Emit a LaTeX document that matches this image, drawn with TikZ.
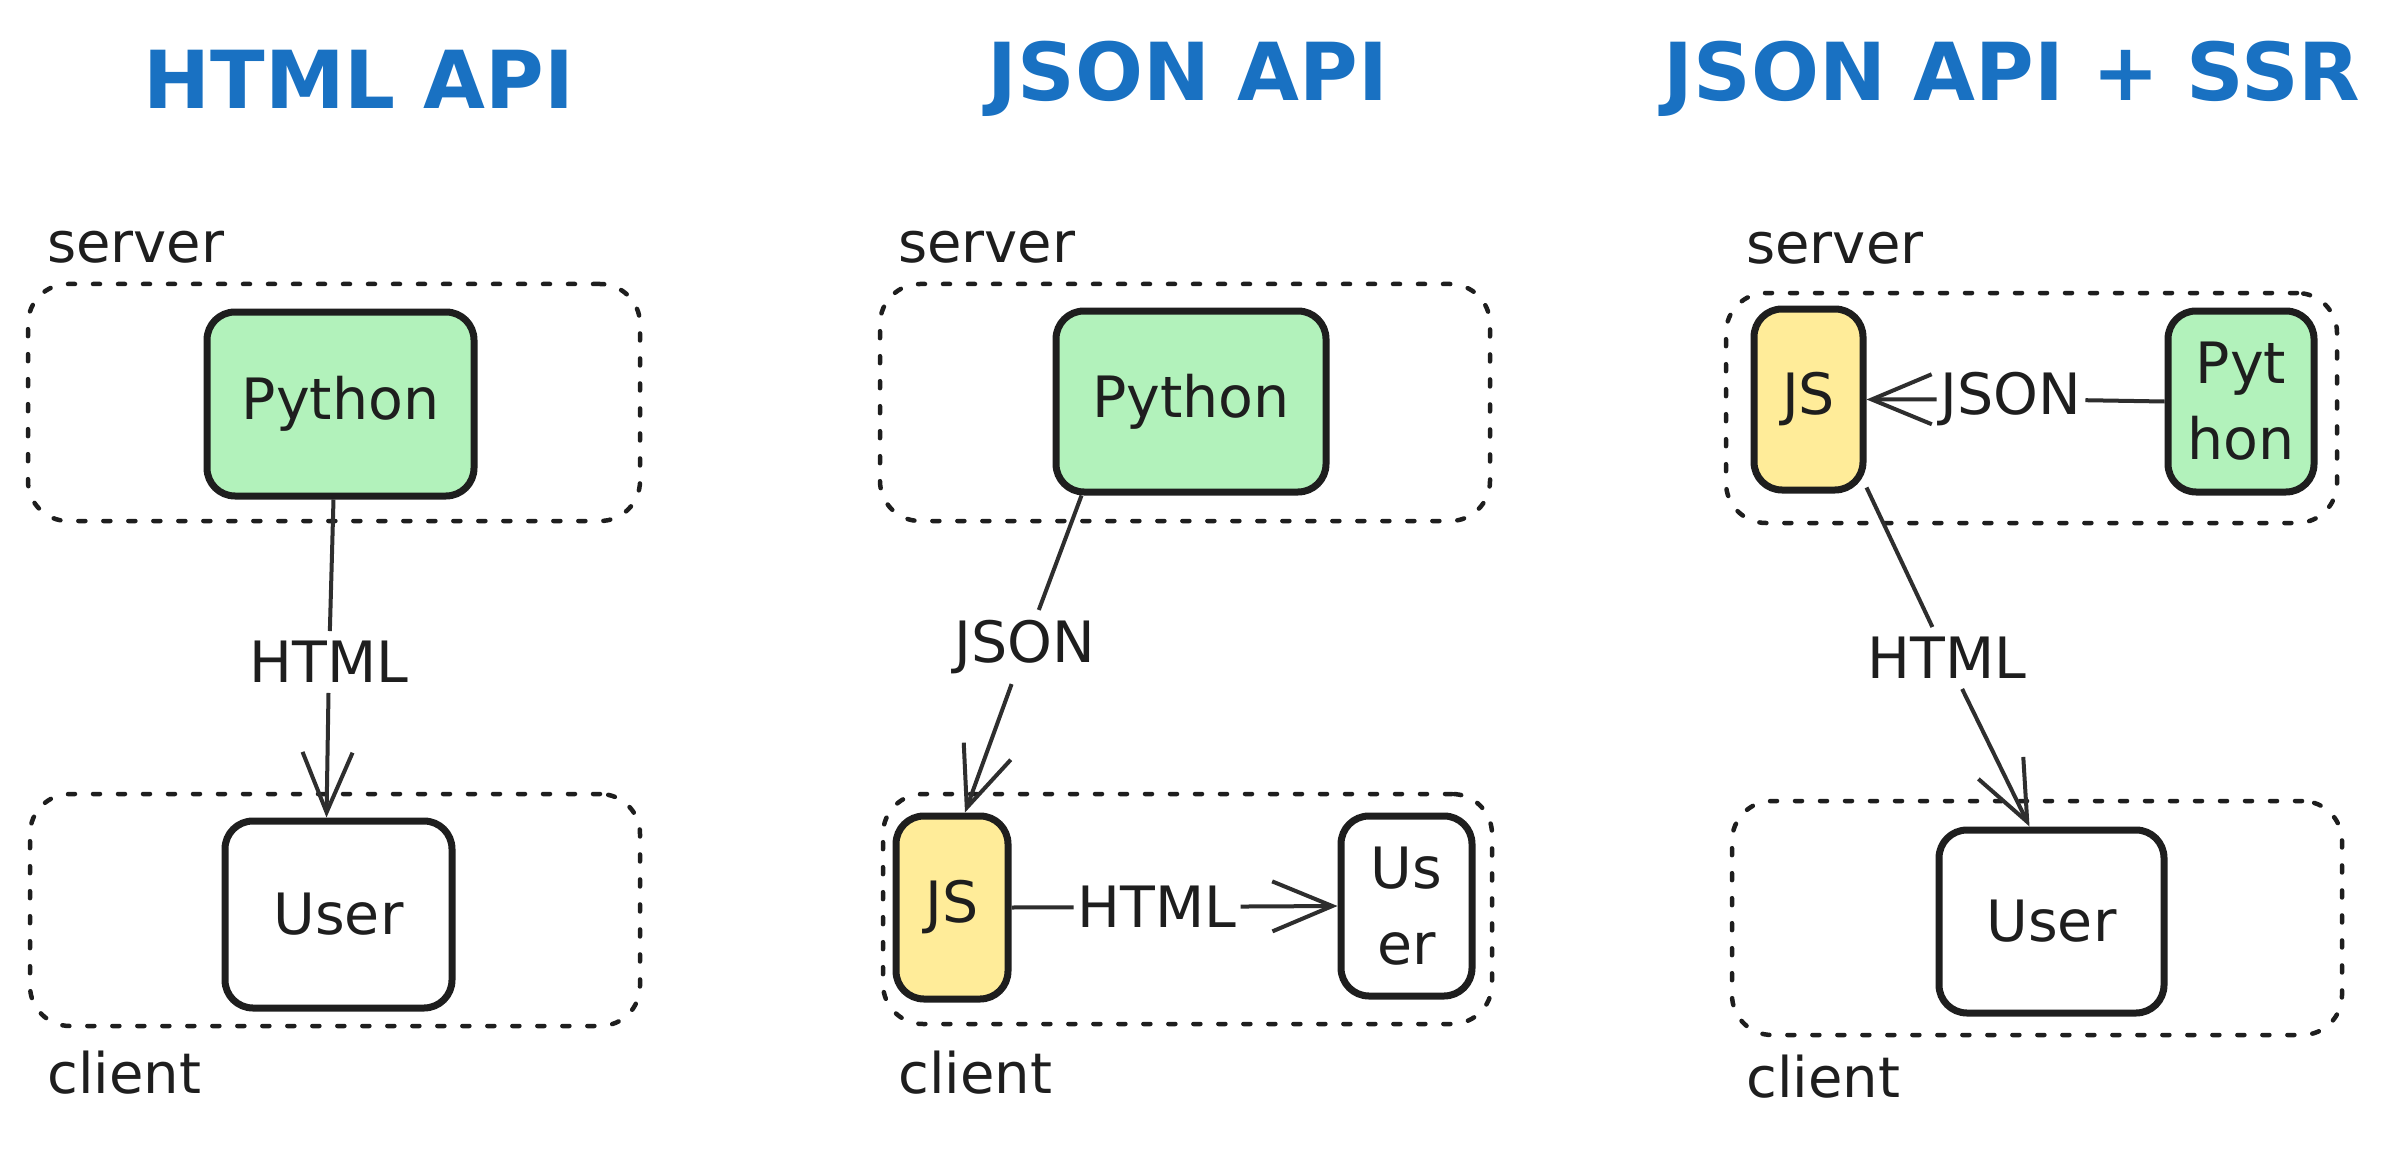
\documentclass[tikz,border=0pt]{standalone}
\usepackage{fontspec}
\setmainfont{DejaVu Sans}
\usetikzlibrary{arrows.meta}
\definecolor{ink}{HTML}{1E1E1E}
\definecolor{ttl}{HTML}{1971C2}
\definecolor{grn}{HTML}{B2F2BB}
\definecolor{ylw}{HTML}{FFEC99}
\definecolor{wire}{HTML}{2E2E2E}
\begin{document}
\begin{tikzpicture}[x=1pt,y=-1pt,
  title/.style={font=\fontsize{80}{96}\selectfont\bfseries, text=ttl, inner sep=0pt},
  tag/.style={font=\fontsize{56}{68}\selectfont, text=ink, anchor=base west, inner sep=0pt},
  zone/.style={draw=ink, line width=4.5pt, dash pattern=on 7pt off 18pt, line cap=round, rounded corners=40pt},
  blk/.style={draw=ink, line width=7pt, rounded corners=28pt, font=\fontsize{57}{76}\selectfont, text=ink, align=center, inner sep=0pt},
  lbl/.style={font=\fontsize{57}{68}\selectfont, text=ink, inner sep=10pt},
  conn/.style={draw=wire, line width=4pt},
  arr/.style={conn, -{Straight Barb[length=60pt,width=50pt,line width=4pt]}}
]
\useasboundingbox[fill=white] (0,0) rectangle (2387,1150);

% ---------- Panel 1: HTML API ----------
\node[title] (t1) at (359,79) {HTML API};
\node[tag] (s1) at (47,262) {server};
\node[zone, minimum width=612pt, minimum height=237pt] (z1s) at (334,402.5) {};
\node[blk, fill=grn, minimum width=267pt, minimum height=184pt] (p1py) at (340.5,404) {Python};
\node[zone, minimum width=610pt, minimum height=232pt] (z1c) at (335,910) {};
\node[blk, fill=white, minimum width=227pt, minimum height=187pt] (p1us) at (338.5,914.5) {User};
\node[tag] (c1) at (47,1093) {client};
\node[lbl] (h1) at (329,662) {HTML};
\draw[conn] ([xshift=-7pt]p1py.south) -- (h1);
\draw[arr] (h1) -- ([xshift=-12pt]p1us.north);

% ---------- Panel 2: JSON API ----------
\node[title] (t2) at (1188,79) {JSON API};
\node[tag] (s2) at (898,262) {server};
\node[zone, minimum width=610pt, minimum height=237pt] (z2s) at (1185,402.5) {};
\node[blk, fill=grn, minimum width=270pt, minimum height=181pt] (p2py) at (1191,401.5) {Python};
\node[zone, minimum width=609pt, minimum height=230pt] (z2c) at (1187.5,909) {};
\node[blk, fill=ylw, minimum width=112pt, minimum height=183pt] (p2js) at (952,907.5) {JS};
\node[blk, fill=white, minimum width=131pt, minimum height=180pt] (p2us) at (1406.5,906) {Us\\er};
\node[tag] (c2) at (898,1093) {client};
\node[lbl] (j2) at (1025,647) {JSON};
\node[lbl, inner sep=4pt] (h2) at (1157,907) {HTML};
\draw[conn] ([xshift=29pt]p2py.south west) -- (j2);
\draw[arr] (j2) -- ([xshift=13pt]p2js.north);
\draw[conn] (p2js.east) -- (h2);
\draw[arr] (h2) -- (p2us.west);

% ---------- Panel 3: JSON API + SSR ----------
\node[title] (t3) at (2012,79) {JSON API + SSR};
\node[tag] (s3) at (1746,264) {server};
\node[zone, minimum width=611pt, minimum height=230pt] (z3s) at (2031.5,408) {};
\node[blk, fill=ylw, minimum width=109pt, minimum height=181pt] (p3js) at (1808.5,399.5) {JS};
\node[blk, fill=grn, minimum width=146pt, minimum height=181pt] (p3py) at (2241,401.5) {Pyt\\hon};
\node[zone, minimum width=610pt, minimum height=234pt] (z3c) at (2037,918) {};
\node[blk, fill=white, minimum width=225pt, minimum height=183pt] (p3us) at (2051.5,921.5) {User};
\node[tag] (c3) at (1746,1097) {client};
\node[lbl, inner sep=4pt] (j3) at (2011,399) {JSON};
\node[lbl] (h3) at (1947,658) {HTML};
\draw[conn] (p3py.west) -- (j3);
\draw[arr] (j3) -- (p3js.east);
\draw[conn] ([yshift=6pt]p3js.south east) -- (h3);
\draw[arr] (h3) -- ([xshift=-22pt]p3us.north);
\end{tikzpicture}
\end{document}
